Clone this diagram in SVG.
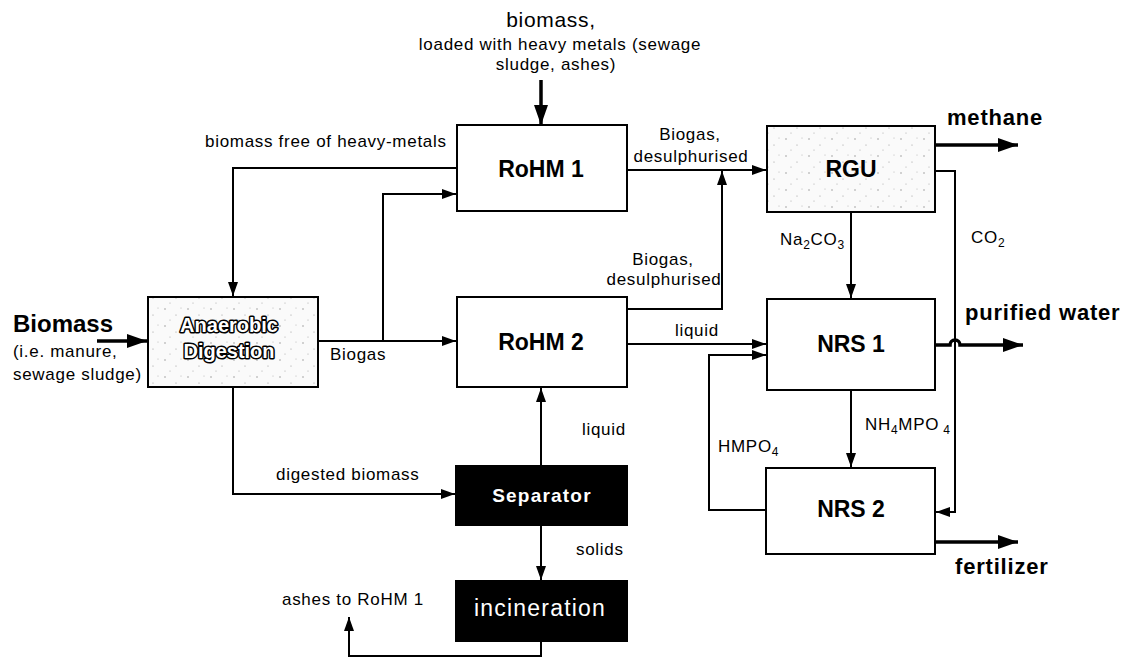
<svg xmlns="http://www.w3.org/2000/svg" width="1124" height="659" viewBox="0 0 1124 659">
<style>
text{font-family:"Liberation Sans",Arial,sans-serif;fill:#000}
.lbl{font-size:17px;letter-spacing:0.7px}
.mid{text-anchor:middle}
.bx{fill:#fff;stroke:#000;stroke-width:2}
.dot{fill:url(#speck);stroke:#000;stroke-width:2}
.blk{fill:#000;stroke:#000;stroke-width:2}
.big{font-size:23px;font-weight:bold;text-anchor:middle}
.ln{fill:none;stroke:#000;stroke-width:2}
.thk{fill:none;stroke:#000;stroke-width:3.5}
.out{font-size:20px;font-weight:bold;fill:#fff;stroke:#000;stroke-width:3;paint-order:stroke;stroke-linejoin:round;text-anchor:middle}
.prod{font-size:22px;font-weight:bold;letter-spacing:0.8px}
.sub{font-size:12px}
</style>
<defs>
<pattern id="speck" width="23" height="17" patternUnits="userSpaceOnUse">
<rect width="23" height="17" fill="#fafafa"/>
<circle cx="4" cy="3" r="0.7" fill="#888"/>
<circle cx="15" cy="9" r="0.6" fill="#999"/>
<circle cx="9" cy="14" r="0.6" fill="#aaa"/>
<circle cx="20" cy="2" r="0.5" fill="#aaa"/>
</pattern>
<marker id="a" markerUnits="userSpaceOnUse" markerWidth="14" markerHeight="10" refX="14" refY="5" orient="auto">
<path d="M0,0 L14,5 L0,10 z" fill="#000"/>
</marker>
<marker id="b" markerUnits="userSpaceOnUse" markerWidth="20" markerHeight="14" refX="20" refY="7" orient="auto">
<path d="M0,0 L20,7 L0,14 z" fill="#000"/>
</marker>
</defs>

<g id="connectors">
<path class="thk" d="M97,341 H147" marker-end="url(#b)"/>
<path class="thk" d="M541,80 V125" marker-end="url(#b)"/>
<path class="ln" d="M457,168 H233 V296" marker-end="url(#a)"/>
<path class="ln" d="M318,341 H456" marker-end="url(#a)"/>
<path class="ln" d="M383,341 V194 H456" marker-end="url(#a)"/>
<path class="ln" d="M627,170 H766" marker-end="url(#a)"/>
<path class="ln" d="M627,309 H722 V171" marker-end="url(#a)"/>
<path class="ln" d="M627,344 H766" marker-end="url(#a)"/>
<path class="ln" d="M766,510 H709 V355 H766" marker-end="url(#a)"/>
<path class="ln" d="M851,212 V298" marker-end="url(#a)"/>
<path class="ln" d="M851,390 V467" marker-end="url(#a)"/>
<path class="thk" d="M935,145 H1018" marker-end="url(#b)"/>
<path class="ln" d="M935,171 H955 V512 H936" marker-end="url(#a)"/>
<path class="thk" d="M935,345 H950 A5,5 0 0 1 960,345 H1023" marker-end="url(#b)"/>
<path class="thk" d="M935,542 H1018" marker-end="url(#b)"/>
<path class="ln" d="M233,387 V494 H455" marker-end="url(#a)"/>
<path class="ln" d="M541,466 V388" marker-end="url(#a)"/>
<path class="ln" d="M541,525 V580" marker-end="url(#a)"/>
<path class="ln" d="M541,641 V656 H349 V617" marker-end="url(#a)"/>
</g>

<g id="labels">
<text x="551" y="27" font-size="21" letter-spacing="0.7" text-anchor="middle">biomass,</text>
<text x="560" y="50" class="lbl mid">loaded with heavy metals (sewage</text>
<text x="556" y="70" class="lbl mid">sludge, ashes)</text>
<text x="205" y="147" class="lbl">biomass free of heavy-metals</text>
<text x="690" y="140" class="lbl mid">Biogas,</text>
<text x="691" y="162" class="lbl mid">desulphurised</text>
<text x="663" y="265" class="lbl mid">Biogas,</text>
<text x="664" y="285" class="lbl mid">desulphurised</text>
<text x="330" y="360" class="lbl">Biogas</text>
<text x="675" y="336" class="lbl">liquid</text>
<text x="780" y="245" class="lbl">Na<tspan class="sub" dy="4">2</tspan><tspan dy="-4">CO</tspan><tspan class="sub" dy="4">3</tspan></text>
<text x="971" y="243" class="lbl">CO<tspan class="sub" dy="4">2</tspan></text>
<text x="865" y="430" class="lbl">NH<tspan class="sub" dy="4">4</tspan><tspan dy="-4">MPO</tspan><tspan class="sub" dy="4"> 4</tspan></text>
<text x="718" y="452" class="lbl">HMPO<tspan class="sub" dy="4">4</tspan></text>
<text x="13" y="332" font-size="24" font-weight="bold">Biomass</text>
<text x="13" y="357" class="lbl">(i.e. manure,</text>
<text x="13" y="380" class="lbl">sewage sludge)</text>
<text x="276" y="480" class="lbl">digested biomass</text>
<text x="582" y="435" class="lbl">liquid</text>
<text x="576" y="555" class="lbl">solids</text>
<text x="282" y="605" class="lbl">ashes to RoHM 1</text>
<text x="947" y="125" class="prod">methane</text>
<text x="965" y="320" class="prod">purified water</text>
<text x="955" y="574" class="prod" letter-spacing="0.4">fertilizer</text>
</g>

<g id="ad">
<rect class="dot" x="148" y="297" width="170" height="90"/>
<text x="229" y="332" class="out">Anaerobic</text>
<text x="229" y="358" class="out">Digestion</text>
</g>
<g id="rohm1">
<rect class="bx" x="457" y="125" width="170" height="86"/>
<text x="541" y="177" class="big">RoHM 1</text>
</g>
<g id="rohm2">
<rect class="bx" x="457" y="297" width="170" height="90"/>
<text x="541" y="350" class="big">RoHM 2</text>
</g>
<g id="rgu">
<rect class="dot" x="767" y="126" width="168" height="86"/>
<text x="851" y="177" class="big">RGU</text>
</g>
<g id="nrs1">
<rect class="bx" x="767" y="299" width="168" height="91"/>
<text x="851" y="352" class="big">NRS 1</text>
</g>
<g id="nrs2">
<rect class="bx" x="766" y="468" width="169" height="86"/>
<text x="851" y="517" class="big">NRS 2</text>
</g>
<g id="separator">
<rect class="blk" x="456" y="466" width="171" height="59"/>
<text x="542" y="502" font-size="19" font-weight="bold" text-anchor="middle" style="fill:#fff;letter-spacing:1.2px">Separator</text>
</g>
<g id="incineration">
<rect class="blk" x="456" y="581" width="171" height="60"/>
<text x="540" y="616" font-size="23" text-anchor="middle" style="fill:#fff;letter-spacing:1.2px">incineration</text>
</g>
</svg>
